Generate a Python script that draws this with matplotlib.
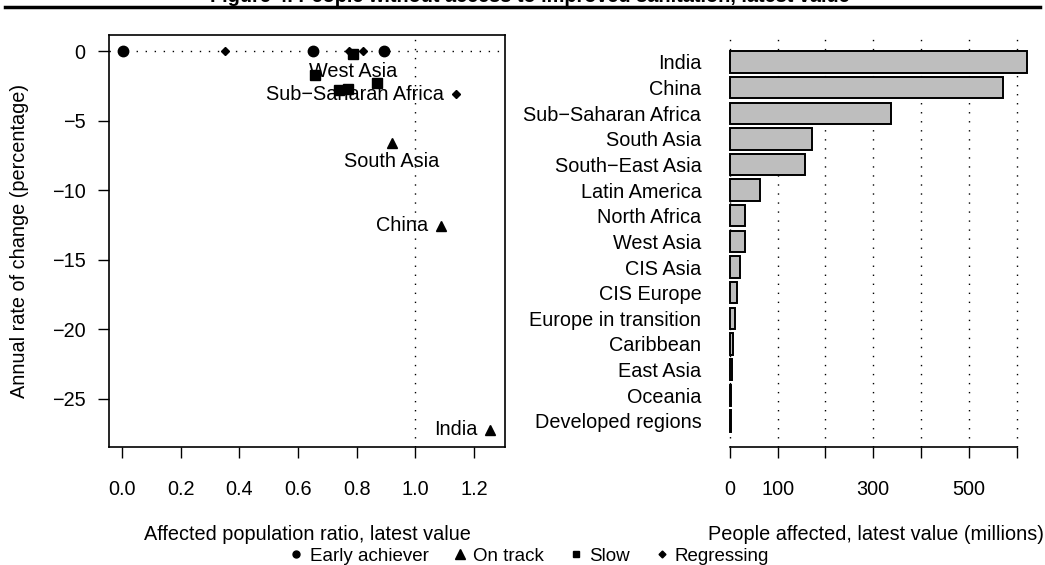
import numpy as np
import matplotlib.pyplot as plt
from matplotlib.lines import Line2D

plt.rcParams['font.family'] = ['Liberation Sans', 'DejaVu Sans']

# Scatter data, by status group
early_x = [0.005, 0.65, 0.893]
early_y = [0.0, 0.0, 0.0]

track_x = [0.919, 1.087, 1.254]
track_y = [-6.63, -12.57, -27.2]
track_lab = ['South Asia', 'China', 'India']

slow_x = [0.786, 0.658, 0.740, 0.771, 0.868]
slow_y = [-0.2, -1.72, -2.8, -2.7, -2.3]
slow_lab = ['West Asia', '', '', '', '']

regr_x = [0.351, 0.773, 0.822, 1.138]
regr_y = [0.0, 0.0, 0.0, -3.09]
regr_lab = ['', '', '', 'Sub\u2212Saharan Africa']

# Bar data (millions), top to bottom
regions = ['India', 'China', 'Sub\u2212Saharan Africa', 'South Asia',
           'South\u2212East Asia', 'Latin America', 'North Africa', 'West Asia',
           'CIS Asia', 'CIS Europe', 'Europe in transition', 'Caribbean',
           'East Asia', 'Oceania', 'Developed regions']
people = [622, 571, 338, 171, 158, 64, 31, 31, 21, 14, 10, 7, 4, 3, 1.5]

W, H = 1045, 565
fig = plt.figure(figsize=(W / 100, H / 100), dpi=100)

def box(x0, y0, x1, y1):
    return [x0 / W, 1 - y1 / H, (x1 - x0) / W, (y1 - y0) / H]

fs = 14.3

# ---- left panel
ax = fig.add_axes(box(109, 35, 505, 447))
dot = (0, (1, 5.5))
ax.axhline(0, color='black', lw=1, ls=dot, zorder=1)
ax.axvline(1.0, color='black', lw=1, ls=dot, zorder=1)

ax.plot(early_x, early_y, 'o', color='black', ms=7.5, zorder=3)
ax.plot(track_x, track_y, '^', color='black', ms=7.5, zorder=3)
ax.plot(slow_x, slow_y, 's', color='black', ms=6.5, zorder=3)
ax.plot(regr_x, regr_y, 'D', color='black', ms=3.8, zorder=3)

# labels: below (pos=1) or left (pos=2)
below = {'West Asia', 'South Asia'}
for xs, ys, labs in [(track_x, track_y, track_lab), (slow_x, slow_y, slow_lab),
                     (regr_x, regr_y, regr_lab)]:
    for x, y, t in zip(xs, ys, labs):
        if not t:
            continue
        if t in below:
            ax.annotate(t, (x, y), xytext=(0, -13), textcoords='offset points',
                        ha='center', va='center', fontsize=fs, zorder=2)
        else:
            ax.annotate(t, (x, y), xytext=(-9, 0), textcoords='offset points',
                        ha='right', va='center', fontsize=fs, zorder=2)

ax.set_xlim(-0.044, 1.305)
ax.set_ylim(-28.45, 1.15)
ax.set_xticks(np.arange(0, 1.21, 0.2))
ax.set_xticklabels(['%.1f' % v for v in np.arange(0, 1.21, 0.2)])
ax.set_yticks([0, -5, -10, -15, -20, -25])
ax.set_yticklabels(['0', '\u22125', '\u221210', '\u221215', '\u221220', '\u221225'])
ax.tick_params(axis='x', direction='out', length=8, width=1, pad=16, labelsize=fs)
ax.tick_params(axis='y', direction='out', length=8, width=1, pad=9, labelsize=fs)
for s in ax.spines.values():
    s.set_linewidth(1.2)

# ---- right panel
bx = fig.add_axes(box(718, 35, 1039, 447))
ypos = np.arange(len(regions))[::-1]
for v in range(0, 601, 100):
    bx.axvline(v, color='black', lw=1, ls=dot, zorder=1)
bx.barh(ypos, people, height=0.833, color='#bebebe', edgecolor='black',
        lw=1.4, zorder=2)
bx.set_yticks(ypos)
bx.set_yticklabels(regions)
bx.set_xlim(-24.9, 646.9)
bx.set_ylim(-1.02, len(regions) - 1 + 1.05)
bx.set_xticks(range(0, 601, 100))
bx.set_xticklabels(['0', '100', '', '300', '', '500', ''])
for k in ['top', 'right', 'left']:
    bx.spines[k].set_visible(False)
bx.spines['bottom'].set_bounds(0, 600)
bx.spines['bottom'].set_linewidth(1.2)
bx.tick_params(axis='x', direction='out', length=8, width=1, pad=16, labelsize=fs)
bx.tick_params(axis='y', length=0, pad=12, labelsize=fs)

# axis titles
fig.text(307 / W, 1 - 535 / H, 'Affected population ratio, latest value',
         ha='center', va='center', fontsize=fs)
fig.text(876 / W, 1 - 535 / H, 'People affected, latest value (millions)',
         ha='center', va='center', fontsize=fs)
fig.text(20 / W, 1 - 241 / H, 'Annual rate of change (percentage)',
         ha='center', va='center', rotation=90, fontsize=fs)

# title (clipped at top, as in the source) and rule
fig.text(530 / W, 1 - 2 / H,
         'Figure 4. People without access to improved sanitation, latest value',
         ha='center', va='baseline', fontsize=fs, weight='bold')
fig.add_artist(Line2D([5 / W, 1040 / W], [1 - 7 / H, 1 - 7 / H],
                      color='black', lw=2.5, transform=fig.transFigure))

# legend
handles = [Line2D([], [], ls='none', marker='o', color='black', ms=5),
           Line2D([], [], ls='none', marker='^', color='black', ms=7),
           Line2D([], [], ls='none', marker='s', color='black', ms=4.5),
           Line2D([], [], ls='none', marker='D', color='black', ms=3.5)]
fig.legend(handles, ['Early achiever', 'On track', 'Slow', 'Regressing'],
           loc='center', bbox_to_anchor=(530 / W, 1 - 556 / H), ncol=4,
           frameon=False, fontsize=13.5, handlelength=0.6, handletextpad=0.4,
           columnspacing=1.4, borderpad=0, borderaxespad=0)

fig.savefig('out.png', dpi=100)
